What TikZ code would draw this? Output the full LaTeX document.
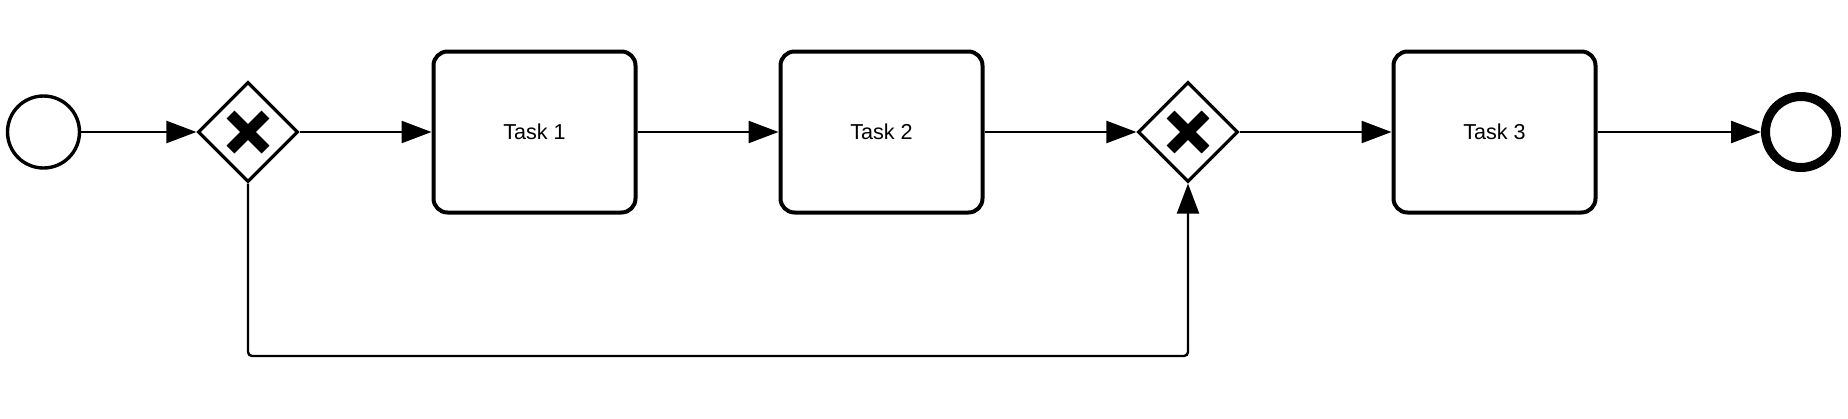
\documentclass[tikz,border=0pt]{standalone}
\usepackage{fontspec}
\setmainfont{Liberation Sans}
\usetikzlibrary{shapes.geometric, arrows.meta}

\tikzset{
    event/.style={draw, circle, line width=1.7pt, minimum size=36pt, inner sep=0pt},
    endevent/.style={draw, circle, line width=4.5pt, minimum size=35.5pt, inner sep=0pt},
    task/.style={draw, rounded corners=7pt, line width=2pt, minimum width=101pt,
        minimum height=80.5pt, inner sep=0pt, font=\fontsize{10.8}{13}\selectfont},
    gateway/.style={draw, diamond, aspect=1, line width=1.6pt, minimum width=50pt,
        minimum height=50pt, inner sep=0pt,
        path picture={
            \draw[line width=5.5pt]
                ([shift={(-8.75pt,-8.75pt)}]path picture bounding box.center) --
                ([shift={(8.75pt,8.75pt)}]path picture bounding box.center);
            \draw[line width=5.5pt]
                ([shift={(-8.75pt,8.75pt)}]path picture bounding box.center) --
                ([shift={(8.75pt,-8.75pt)}]path picture bounding box.center);
        }},
    flow/.style={line width=1.2pt, -{Triangle[length=15pt, width=11pt]}}
}

\begin{document}
\begin{tikzpicture}[x=0.5pt, y=-0.5pt]
    \useasboundingbox (0,0) rectangle (1848,418);

    % Events
    \node[event] (start) at (43.5, 132) {};
    \node[endevent] (end) at (1801, 132) {};

    % Gateways
    \node[gateway] (gw1) at (248, 132) {};
    \node[gateway] (gw2) at (1188, 132) {};

    % Tasks
    \node[task] (task1) at (534.5, 132) {Task 1};
    \node[task] (task2) at (881.5, 132) {Task 2};
    \node[task] (task3) at (1494.5, 132) {Task 3};

    % Sequence flows
    \draw[flow] (start) -- (gw1);
    \draw[flow] (gw1) -- (task1);
    \draw[flow] (task1) -- (task2);
    \draw[flow] (task2) -- (gw2);
    \draw[flow] (gw2) -- (task3);
    \draw[flow] (task3) -- (end);

    % Loop back
    \coordinate (loopbase) at (0, 356);
    \draw[flow, rounded corners=2pt] (gw1.south) -- (gw1.south |- loopbase) -| (gw2.south);

\end{tikzpicture}
\end{document}
